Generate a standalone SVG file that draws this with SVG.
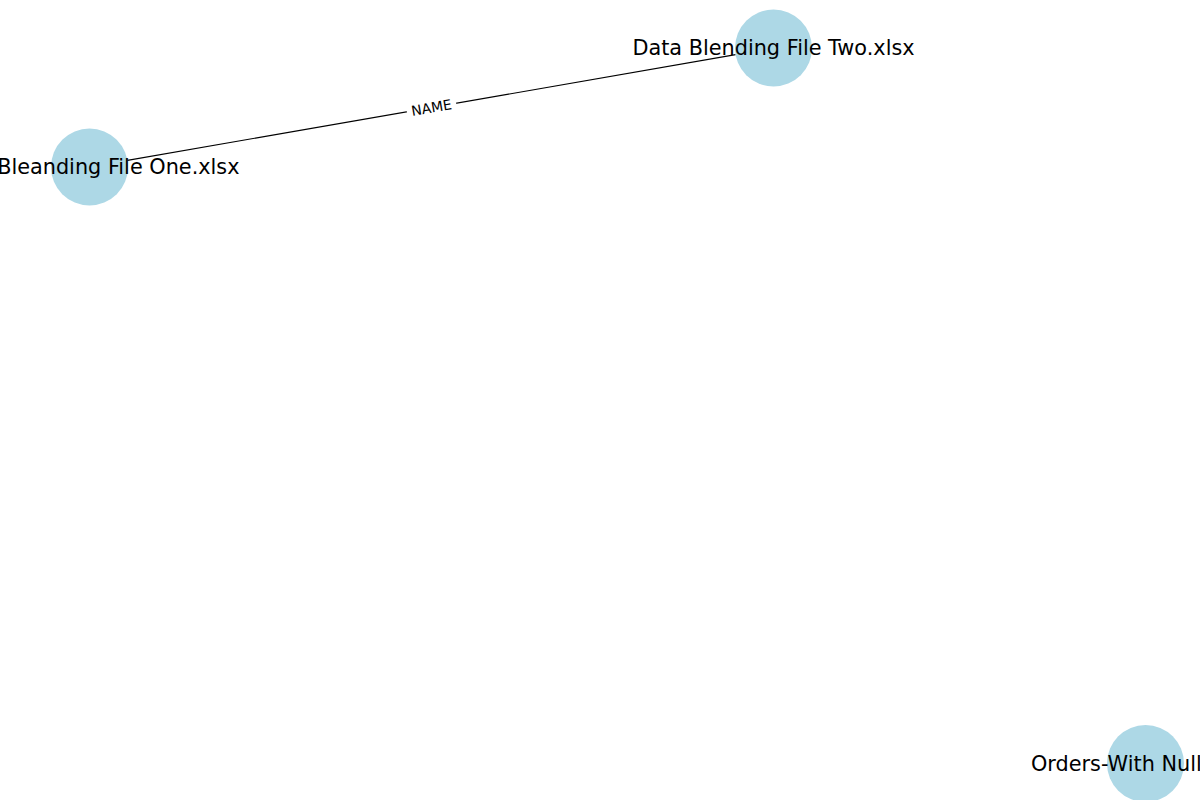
<svg xmlns="http://www.w3.org/2000/svg" width="1200" height="800" viewBox="0 0 1200 800">
  <style>
    .node { fill: #ADD8E6; }
    .label { font-family: "DejaVu Sans", sans-serif; font-size: 20.8px; fill: #000; }
    .edge { stroke: #000; stroke-width: 1.1; fill: none; }
    .elabel { font-family: "DejaVu Sans", sans-serif; font-size: 13.9px; fill: #000; }
  </style>
  <rect width="1200" height="800" fill="#fff"/>
  <g id="connectors">
    <line class="edge" x1="127.4" y1="160.4" x2="735.6" y2="54.6"/>
    <g transform="translate(431.5,107.5) rotate(-9.87)">
      <rect x="-25" y="-10" width="50" height="20" fill="#fff"/>
      <text class="elabel" x="0" y="5" text-anchor="middle">NAME</text>
    </g>
  </g>
  <g id="node-file-one">
    <circle class="node" cx="89.5" cy="167" r="38.5"/>
    <text class="label" x="239.5" y="174" text-anchor="end">Bleanding File One.xlsx</text>
  </g>
  <g id="node-file-two">
    <circle class="node" cx="773.5" cy="48" r="38.5"/>
    <text class="label" x="773.5" y="55" text-anchor="middle">Data Blending File Two.xlsx</text>
  </g>
  <g id="node-orders">
    <circle class="node" cx="1145.5" cy="763.5" r="38.5"/>
    <text class="label" x="1031" y="770.5" text-anchor="start">Orders-With Null</text>
  </g>
</svg>
